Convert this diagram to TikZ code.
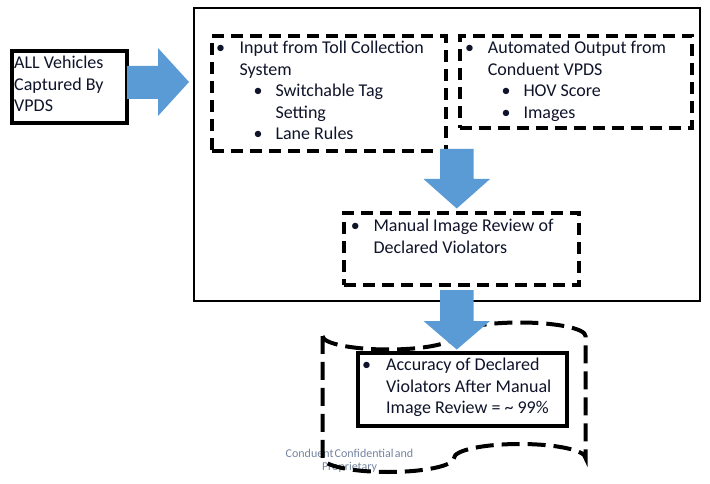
\documentclass[tikz,border=0pt]{standalone}
\usepackage{fontspec}
\setmainfont{Carlito}
\definecolor{textc}{RGB}{15,20,42}
\definecolor{arrowblue}{HTML}{5B9BD5}
\definecolor{wmark}{RGB}{118,133,160}
\begin{document}
\begin{tikzpicture}[x=1pt,y=-1pt,
  txt/.style={font=\fontsize{18}{22}\selectfont, text=textc, inner sep=0pt, anchor=base west},
  boxbase/.style={rectangle, inner sep=0pt, anchor=north west},
  dbox/.style={boxbase, draw=black, line width=4pt, dash pattern=on 12pt off 7pt},
  sbox/.style={boxbase, draw=black, line width=4pt, fill=white},
  bigbox/.style={boxbase, draw=black, line width=2pt},
  tape/.style={draw=black, line width=4pt, dash pattern=on 18pt off 8pt},
  blockarrow/.style={fill=arrowblue},
  wm/.style={font=\fontsize{12}{14}\selectfont, text=wmark, inner sep=0pt, anchor=base}]
\useasboundingbox (0,0) rectangle (710,484);
\fill[white] (0,0) rectangle (710,484);

% frames
\node[bigbox, minimum width=506pt, minimum height=292.5pt] (big) at (193,7) {};
\node[dbox, minimum width=233.7pt, minimum height=115pt] (toll) at (210,34) {};
\node[dbox, minimum width=232.5pt, minimum height=92pt] (auto) at (457.5,34) {};
\node[dbox, minimum width=235pt, minimum height=72pt] (manual) at (342,211) {};
\node[sbox, minimum width=115pt, minimum height=72pt] (all) at (10,49) {};

% watermark
\node[wm] (wm1) at (349.5,457) {Conduent\hspace{-1.5pt} Confidential\hspace{-1.5pt} and};
\node[wm] (wm2) at (349.5,470.5) {Proprietary};

% punched tape
\draw[tape] (322.5,336)
  arc[start angle=180, end angle=0, x radius=65.75, y radius=13.5]
  arc[start angle=180, end angle=360, x radius=65.75, y radius=13.5]
  -- (585.5,458)
  arc[start angle=0, end angle=-180, x radius=65.75, y radius=14]
  arc[start angle=0, end angle=180, x radius=65.75, y radius=14]
  -- cycle;
\node[sbox, minimum width=209.3pt, minimum height=72.7pt] (acc) at (356,351) {};

% texts: left box
\node[txt] (a1) at (14,69) {ALL Vehicles};
\node[txt] (a2) at (14,90.5) {Captured By};
\node[txt] (a3) at (14,112) {VPDS};

% toll box
\node[txt] (tb1) at (216,54) {•};
\node[txt] (t1) at (239.5,54) {Input from Toll Collection};
\node[txt] (t2) at (239.5,75.5) {System};
\node[txt] (tb2) at (253.3,97) {•};
\node[txt] (t3) at (275.3,97) {Switchable Tag};
\node[txt] (t4) at (275.3,118.5) {Setting};
\node[txt] (tb3) at (253.3,140) {•};
\node[txt] (t5) at (275.3,140) {Lane Rules};

% automated box
\node[txt] (ub1) at (465,54) {•};
\node[txt] (u1) at (487.7,54) {Automated Output from};
\node[txt] (u2) at (487.7,75.5) {Conduent VPDS};
\node[txt] (ub2) at (501.3,97) {•};
\node[txt] (u3) at (523.3,97) {HOV Score};
\node[txt] (ub3) at (501.3,118.5) {•};
\node[txt] (u4) at (523.3,118.5) {Images};

% manual box
\node[txt] (mb1) at (350.7,231.5) {•};
\node[txt] (m1) at (373.3,231.5) {Manual Image Review of};
\node[txt] (m2) at (373.3,253) {Declared Violators};

% accuracy box
\node[txt] (cb1) at (362,370.5) {•};
\node[txt] (c1) at (386,370.5) {Accuracy of Declared};
\node[txt] (c2) at (386,392) {Violators After Manual};
\node[txt] (c3) at (386,413.5) {Image Review = \textasciitilde{} 99\%};

% block arrows
\fill[blockarrow] (127,66) -- (158,66) -- (158,48) -- (189,82) -- (158,116) -- (158,99) -- (127,99) -- cycle;
\fill[blockarrow] (440,149) -- (473.5,149) -- (473.5,179) -- (490,179) -- (456.75,208.5) -- (423.5,179) -- (440,179) -- cycle;
\fill[blockarrow] (440,290) -- (473.5,290) -- (473.5,321) -- (490,321) -- (456.75,349.5) -- (423.5,321) -- (440,321) -- cycle;
\end{tikzpicture}
\end{document}
